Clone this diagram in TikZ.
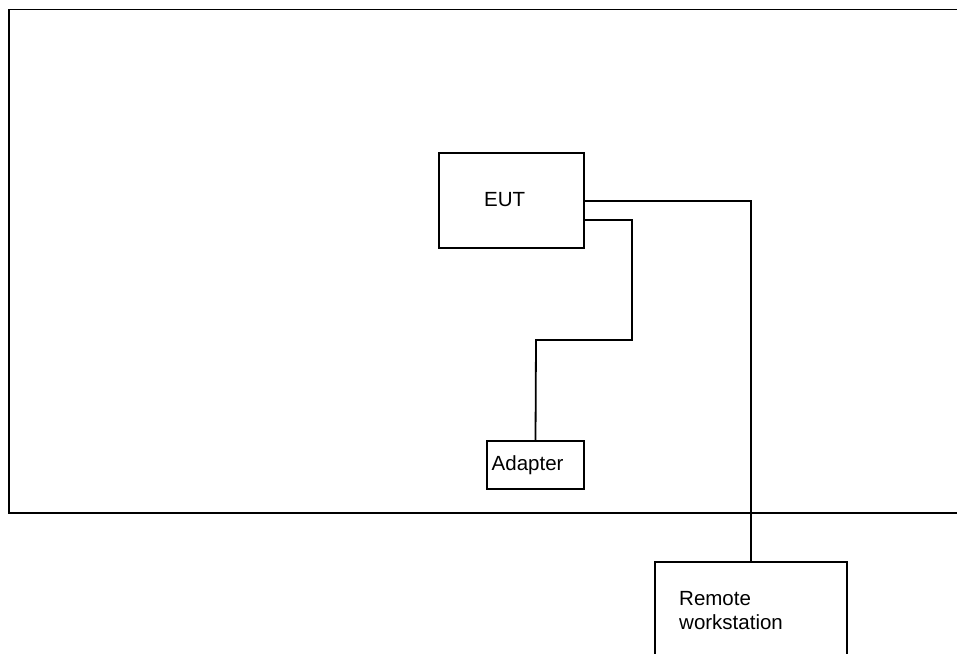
\documentclass[tikz,border=0pt]{standalone}
\usepackage{fontspec}
\setmainfont{Liberation Sans}
\begin{document}
\begin{tikzpicture}[x=1pt,y=-1pt,
  box/.style={draw,line width=1.8pt,rectangle,inner sep=0pt,font=\fontsize{20.5}{24}\selectfont},
  wire/.style={line width=1.8pt},
  lbl/.style={font=\fontsize{20.5}{24}\selectfont,inner sep=0pt,align=left}]
\useasboundingbox (0,0) rectangle (957,653);
\clip (0,0) rectangle (957,653);
\fill[white] (0,0) rectangle (957,653);
% enclosure
\draw[wire] (9,9.5) rectangle (980,513);
% boxes
\node[box,minimum width=145pt,minimum height=95pt] (eut) at (511.5,200.5) {};
\node[lbl,anchor=west] (eutt) at (484,199.5) {EUT};
\node[box,minimum width=97pt,minimum height=48pt] (adp) at (535.5,465) {};
\node[lbl,anchor=west] (adpt) at (491.5,465.5) {Adapter};
\node[box,minimum width=192pt,minimum height=120pt,anchor=north] (rem) at (751,561) {};
\node[lbl,anchor=north west] (remt) at (679,591) {Remote\\workstation};
% connectors
\coordinate (c1) at (751,201.3);
\draw[wire] (eut.east |- c1) -- (c1) -- (rem.north);
\coordinate (c2) at (632,220);
\coordinate (c3) at (536,340);
\draw[wire] (eut.east |- c2) -- (c2) |- (c3) -- (adp.north);
\end{tikzpicture}
\end{document}
